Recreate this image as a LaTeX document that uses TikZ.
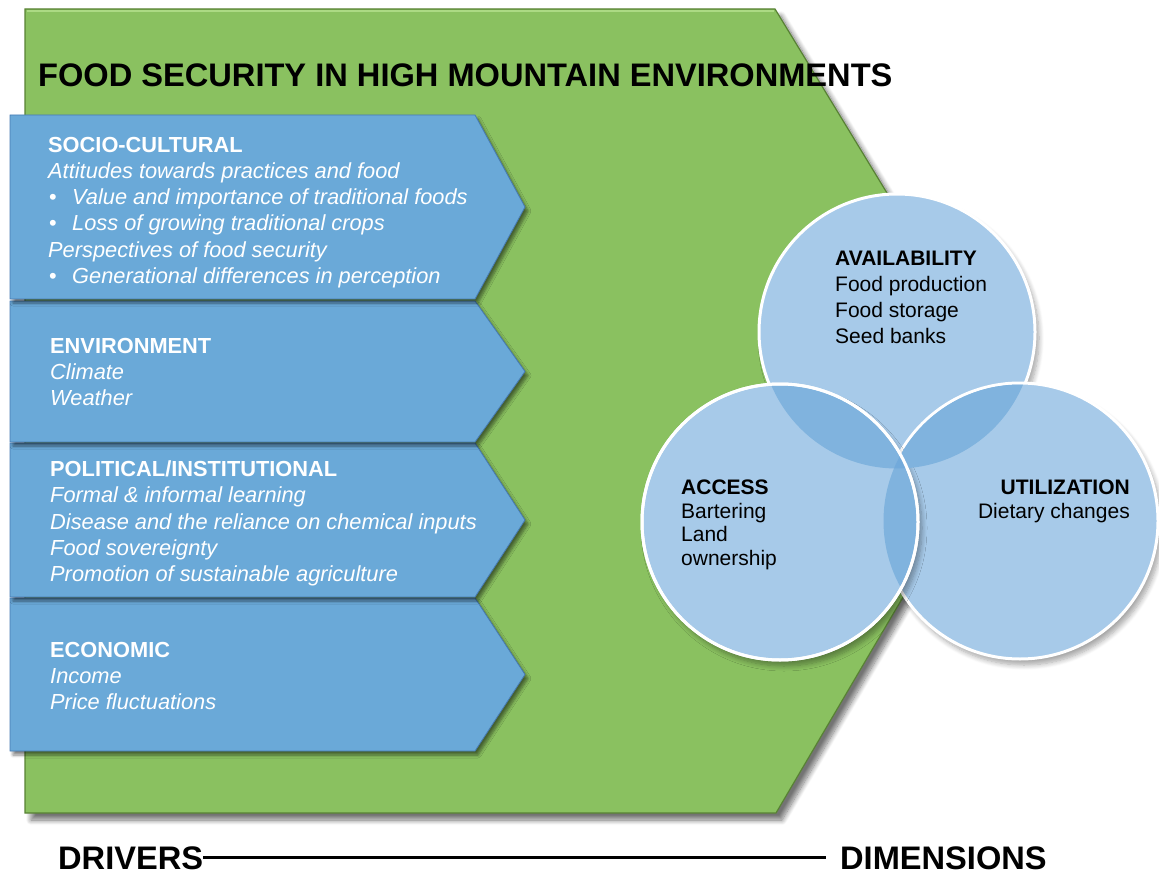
\documentclass[tikz,border=0pt]{standalone}
\usepackage{fontspec}
\setmainfont{Liberation Sans}
\usetikzlibrary{shadows.blur}

\definecolor{framegreen}{RGB}{138,193,96}
\definecolor{frameedge}{RGB}{88,130,52}
\definecolor{framelight}{RGB}{172,218,132}
\definecolor{driverblue}{RGB}{106,169,216}
\definecolor{driveredge}{RGB}{70,122,178}
\definecolor{dimblue}{RGB}{167,202,233}
\definecolor{dimoverlap}{RGB}{128,179,222}
\definecolor{dimcore}{RGB}{114,170,219}

\begin{document}
\begin{tikzpicture}[
  x=1pt, y=-1pt,
  frame/.style={fill=framegreen, draw=frameedge, line width=1.2pt,
    blur shadow={shadow xshift=6pt, shadow yshift=-7pt, shadow opacity=55,
      shadow blur radius=5pt, shadow blur steps=10}},
  driver/.style={fill=driverblue, draw=driveredge, line width=0.8pt,
    blur shadow={shadow xshift=3pt, shadow yshift=-4pt, shadow opacity=50,
      shadow blur radius=3pt, shadow blur steps=6}},
  dimdisc/.style={fill=dimblue, draw=white, line width=3pt,
    blur shadow={shadow xshift=4pt, shadow yshift=-6pt, shadow opacity=35,
      shadow blur radius=5pt, shadow blur steps=8}},
  drvtext/.style={anchor=north west, inner sep=0pt, align=left, text=white,
    font=\fontsize{21.8}{26.3}\selectfont},
  dimtext/.style={inner sep=0pt, align=left, font=\fontsize{21}{26}\selectfont},
  bigcap/.style={inner sep=0pt, font=\fontsize{32.6}{36}\selectfont\bfseries},
]

\useasboundingbox (0,0) rectangle (1159,877);

% green frame
\path [frame] (25,9) -- (775,9) -- (1016,405) -- (776,813) -- (25,813) -- cycle;
\draw [framelight, line width=1.5pt] (27,11) -- (774,11);

\node [bigcap, anchor=north west] (title) at (38,64)
  {FOOD SECURITY IN HIGH MOUNTAIN ENVIRONMENTS};

% driver arrows, from bottom to top so shadows fall downwards
\foreach \top/\bot in {598/751, 443/597, 301/442, 115/299}
  \path [driver] (10,\top) -- (475,\top) -- (525,{(\top+\bot)/2})
    -- (475,\bot) -- (10,\bot) -- cycle;

\newcommand{\drvbullet}{\makebox[24pt][l]{\hspace{1pt}\textup{•}}}

\node [drvtext] (socio) at (48,136.6) {%
  \textbf{SOCIO-CULTURAL}\\
  \textit{Attitudes towards practices and food}\\
  \drvbullet\textit{Value and importance of traditional foods}\\
  \drvbullet\textit{Loss of growing traditional crops}\\
  \textit{Perspectives of food security}\\
  \drvbullet\textit{Generational differences in perception}};

\node [drvtext] (environ) at (50,337.6) {%
  \textbf{ENVIRONMENT}\\
  \textit{Climate}\\
  \textit{Weather}};

\node [drvtext] (politic) at (50,460.6) {%
  \textbf{POLITICAL/INSTITUTIONAL}\\
  \textit{Formal \& informal learning}\\
  \textit{Disease and the reliance on chemical inputs}\\
  \textit{Food sovereignty}\\
  \textit{Promotion of sustainable agriculture}};

\node [drvtext] (econ) at (50,641.6) {%
  \textbf{ECONOMIC}\\
  \textit{Income}\\
  \textit{Price fluctuations}};

% dimension circles
\coordinate (avail) at (897,332);
\coordinate (util) at (1020,521);
\coordinate (acc) at (780,522);

\foreach \c in {avail,util,acc}
  \path [dimdisc] (\c) circle [radius=138];

\begin{scope}
  \clip (avail) circle [radius=136.5];
  \fill [dimoverlap] (acc) circle [radius=136.5];
  \fill [dimoverlap] (util) circle [radius=136.5];
\end{scope}
\begin{scope}
  \clip (acc) circle [radius=136.5];
  \fill [dimoverlap] (util) circle [radius=136.5];
\end{scope}
\begin{scope}
  \clip (avail) circle [radius=136.5];
  \clip (acc) circle [radius=136.5];
  \fill [dimcore] (util) circle [radius=136.5];
\end{scope}
\draw [white, line width=3pt] (acc) circle [radius=138];

\node [dimtext, anchor=north west] (availtext) at (835,251) {%
  \textbf{AVAILABILITY}\\
  Food production\\
  Food storage\\
  Seed banks};

\node [dimtext, anchor=north west, font=\fontsize{21}{23.5}\selectfont]
  (acctext) at (681,480) {%
  \textbf{ACCESS}\\
  Bartering\\
  Land\\
  ownership};

\node [dimtext, anchor=north east, align=right, font=\fontsize{21}{24}\selectfont]
  (utiltext) at (1130,480) {%
  \textbf{UTILIZATION}\\
  Dietary changes};

% axis along the bottom
\node [bigcap, anchor=base west] (drivers) at (58,869) {DRIVERS};
\node [bigcap, anchor=base west] (dims) at (840,869) {DIMENSIONS};
\draw [line width=3pt] (drivers.east) -- ([xshift=-14pt]dims.west);

\end{tikzpicture}
\end{document}
